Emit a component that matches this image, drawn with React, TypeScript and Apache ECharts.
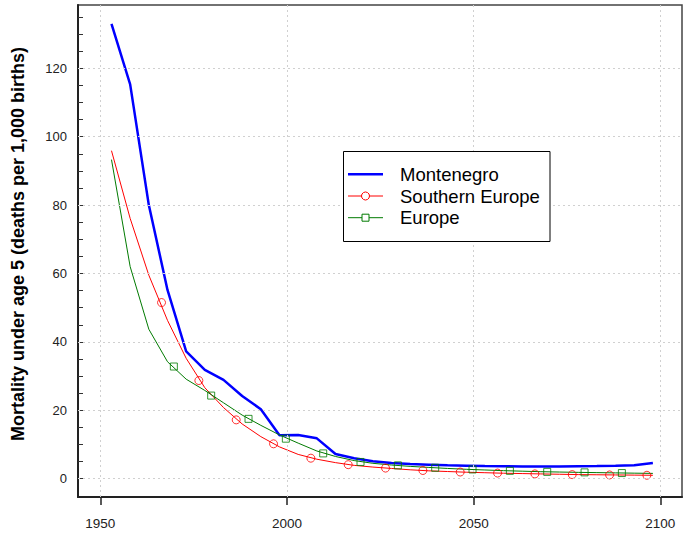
import React, { useEffect, useRef } from "react";
import * as echarts from "echarts";

const chartTitle = "Mortality under age 5";
const yAxisTitle = "Mortality under age 5 (deaths per 1,000 births)";
const seriesNames = ["Montenegro", "Southern Europe", "Europe"];

const years = [1953, 1958, 1963, 1968, 1973, 1978, 1983, 1988, 1993, 1998, 2003, 2008, 2013, 2018, 2023, 2028, 2033, 2038, 2043, 2048, 2053, 2058, 2063, 2068, 2073, 2078, 2083, 2088, 2093, 2098];
const montenegro = [133.0, 115.3, 80.0, 55.2, 37.2, 31.8, 28.9, 24.2, 20.3, 12.7, 12.8, 11.8, 7.2, 6.0, 5.1, 4.6, 4.3, 4.1, 3.9, 3.8, 3.7, 3.65, 3.6, 3.6, 3.6, 3.65, 3.7, 3.8, 3.95, 4.6];
const southernEurope = [95.9, 76.1, 59.5, 46.3, 35.2, 26.6, 20.8, 16.0, 12.3, 9.3, 7.1, 5.7, 4.7, 3.9, 3.4, 3.0, 2.6, 2.3, 2.1, 1.9, 1.75, 1.6, 1.5, 1.4, 1.3, 1.2, 1.15, 1.1, 1.05, 1.0];
const europe = [93.3, 62.0, 43.7, 34.2, 29.1, 25.8, 22.2, 18.6, 15.6, 12.8, 10.4, 8.1, 6.5, 5.3, 4.5, 4.0, 3.6, 3.3, 3.0, 2.75, 2.55, 2.35, 2.2, 2.05, 1.95, 1.85, 1.78, 1.7, 1.62, 1.55];

const southernMarkerYears = [1966.4, 1976.4, 1986.4, 1996.4, 2006.4, 2016.4, 2026.4, 2036.4, 2046.4, 2056.4, 2066.4, 2076.4, 2086.4, 2096.4];
const southernMarkerValues = [51.5, 28.7, 17.2, 10.2, 6.0, 4.1, 3.1, 2.4, 1.95, 1.65, 1.4, 1.2, 1.1, 1.0];
const europeMarkerYears = [1969.7, 1979.7, 1989.7, 1999.7, 2009.7, 2019.7, 2029.7, 2039.7, 2049.7, 2059.7, 2069.7, 2079.7, 2089.7];
const europeMarkerValues = [32.8, 24.3, 17.5, 11.7, 7.4, 4.9, 3.9, 3.2, 2.7, 2.3, 2.0, 1.85, 1.65];

const xTickValues = [1950, 2000, 2050, 2100];
const yLabelValues = [0, 20, 40, 60, 80, 100, 120];
const yTickValues = [0, 5, 10, 15, 20, 25, 30, 35, 40, 45, 50, 55, 60, 65, 70, 75, 80, 85, 90, 95, 100, 105, 110, 115, 120, 125, 130, 135];

const FONT = "'Liberation Sans', Arial, Helvetica, sans-serif";
const BLUE = "#0000ff";
const RED = "#ff0000";
const GREEN = "#007a00";

export default function App() {
  const ref = useRef<HTMLDivElement>(null);

  useEffect(() => {
    if (!ref.current) return;
    const chart = echarts.init(ref.current, undefined, { renderer: "svg" });

    const pairs = (xs: number[], ys: number[]) => xs.map((x, i) => [x, ys[i]]);

    const legendX0 = 348;
    const legendX1 = 383;
    const legendMid = (legendX0 + legendX1) / 2;
    const rows = [174.3, 196, 217.7];

    const option: any = {
      animation: false,
      backgroundColor: "#ffffff",
      grid: {
        left: 78,
        top: 5,
        width: 604,
        height: 492,
        show: true,
        borderColor: "#444",
        borderWidth: 1.5,
        backgroundColor: "transparent",
      },
      xAxis: {
        type: "value",
        min: 1944.03,
        max: 2105.8,
        axisLine: { show: true, onZero: false, lineStyle: { color: "#222", width: 2 } },
        axisTick: { show: true, customValues: xTickValues, length: 8, inside: false, lineStyle: { color: "#222", width: 1.5 } },
        axisLabel: {
          customValues: xTickValues,
          formatter: (v: number) => String(v),
          margin: 19,
          fontSize: 13.5,
          color: "#222",
          fontFamily: FONT,
        },
        splitLine: { show: false },
      },
      yAxis: {
        type: "value",
        min: -5.35,
        max: 138.5,
        axisLine: { show: true, onZero: false, lineStyle: { color: "#222", width: 2 } },
        axisTick: { show: true, customValues: yTickValues, length: 5, inside: true, lineStyle: { color: "#333", width: 1 } },
        axisLabel: {
          customValues: yLabelValues,
          formatter: (v: number) => String(v),
          margin: 11,
          fontSize: 13,
          color: "#222",
          fontFamily: FONT,
        },
        splitLine: { show: false },
      },
      series: [
        {
          type: "line",
          name: "grid",
          data: [],
          silent: true,
          z: 1,
          markLine: {
            silent: true,
            symbol: ["none", "none"],
            label: { show: false },
            lineStyle: { color: "#d0d0d0", type: [2, 3], width: 1 },
            data: [
              ...xTickValues.map((v) => ({ xAxis: v })),
              ...yLabelValues.map((v) => ({ yAxis: v })),
            ],
          },
        },
        {
          type: "line",
          name: seriesNames[0],
          data: pairs(years, montenegro),
          showSymbol: false,
          symbol: "none",
          lineStyle: { color: BLUE, width: 2.5 },
          itemStyle: { color: BLUE },
          z: 3,
        },
        {
          type: "line",
          name: seriesNames[1],
          data: pairs(years, southernEurope),
          showSymbol: false,
          symbol: "none",
          lineStyle: { color: RED, width: 1 },
          itemStyle: { color: RED },
          z: 3,
        },
        {
          type: "line",
          name: seriesNames[2],
          data: pairs(years, europe),
          showSymbol: false,
          symbol: "none",
          lineStyle: { color: GREEN, width: 1 },
          itemStyle: { color: GREEN },
          z: 3,
        },
        {
          type: "scatter",
          name: seriesNames[1] + " markers",
          data: pairs(southernMarkerYears, southernMarkerValues),
          symbol: "circle",
          symbolSize: 8,
          itemStyle: { color: "rgba(0,0,0,0)", borderColor: RED, borderWidth: 1 },
          z: 4,
        },
        {
          type: "scatter",
          name: seriesNames[2] + " markers",
          data: pairs(europeMarkerYears, europeMarkerValues),
          symbol: "rect",
          symbolSize: 7,
          itemStyle: { color: "rgba(0,0,0,0)", borderColor: GREEN, borderWidth: 1 },
          z: 4,
        },
      ],
      graphic: [
        {
          type: "text",
          x: 378,
          y: -14,
          z: 10,
          style: {
            text: chartTitle,
            fontSize: 23,
            fontWeight: "bold",
            fontFamily: FONT,
            fill: "#000",
            align: "center",
            verticalAlign: "middle",
          },
        },
        {
          type: "text",
          x: 18,
          y: 244,
          rotation: Math.PI / 2,
          z: 10,
          style: {
            text: yAxisTitle,
            fontSize: 18,
            fontWeight: "bold",
            fontFamily: FONT,
            fill: "#000",
            align: "center",
            verticalAlign: "middle",
          },
        },
        {
          type: "group",
          z: 20,
          children: [
            {
              type: "rect",
              shape: { x: 343.5, y: 151.5, width: 206.5, height: 90 },
              style: { fill: "#fff", stroke: "#000", lineWidth: 1 },
              z: 20,
            },
            {
              type: "line",
              shape: { x1: legendX0, y1: rows[0], x2: legendX1, y2: rows[0] },
              style: { stroke: BLUE, lineWidth: 2.5 },
              z: 21,
            },
            {
              type: "line",
              shape: { x1: legendX0, y1: rows[1], x2: legendX1, y2: rows[1] },
              style: { stroke: RED, lineWidth: 1 },
              z: 21,
            },
            {
              type: "circle",
              shape: { cx: legendMid, cy: rows[1], r: 4 },
              style: { fill: "#fff", stroke: RED, lineWidth: 1 },
              z: 22,
            },
            {
              type: "line",
              shape: { x1: legendX0, y1: rows[2], x2: legendX1, y2: rows[2] },
              style: { stroke: GREEN, lineWidth: 1 },
              z: 21,
            },
            {
              type: "rect",
              shape: { x: legendMid - 3.5, y: rows[2] - 3.5, width: 7, height: 7 },
              style: { fill: "#fff", stroke: GREEN, lineWidth: 1 },
              z: 22,
            },
            ...seriesNames.map((name, i) => ({
              type: "text",
              x: 400,
              y: rows[i],
              z: 22,
              style: {
                text: name,
                fontSize: 18.5,
                fontFamily: FONT,
                fill: "#000",
                align: "left",
                verticalAlign: "middle",
              },
            })),
          ],
        },
      ],
    };

    chart.setOption(option);
    return () => {
      chart.dispose();
    };
  }, []);

  return (
    <div
      ref={ref}
      style={{ position: "fixed", left: 0, top: 0, width: 696, height: 533 }}
    />
  );
}
